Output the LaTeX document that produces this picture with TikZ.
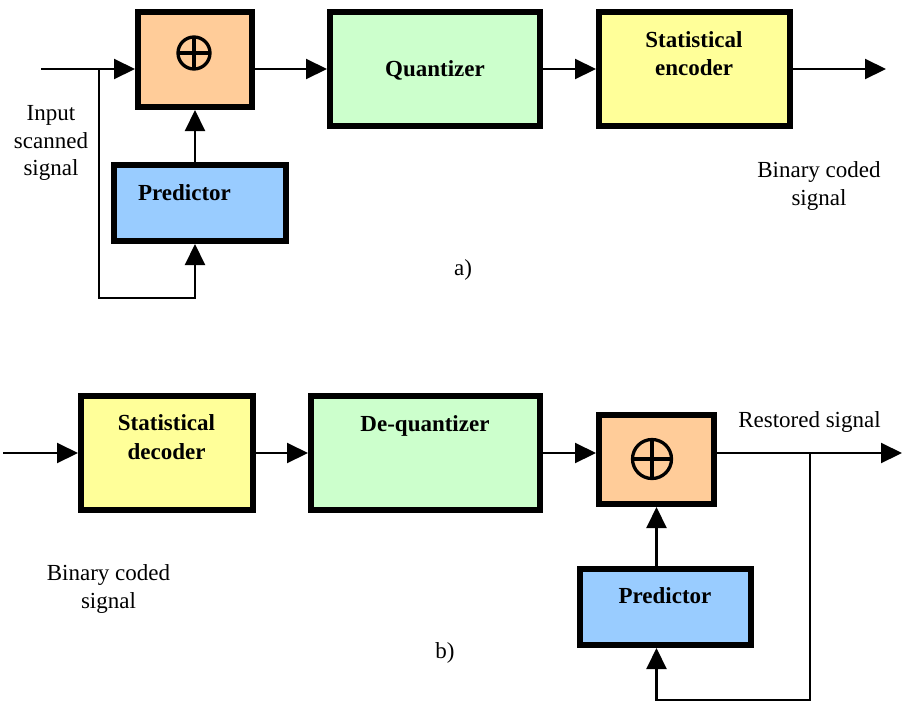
\documentclass[tikz,border=0pt]{standalone}
\usepackage{fontspec}
\setmainfont{Liberation Serif}
\usetikzlibrary{arrows.meta,calc}
\definecolor{sumfill}{HTML}{FFCC99}
\definecolor{qfill}{HTML}{CCFFCC}
\definecolor{sfill}{HTML}{FFFF99}
\definecolor{pfill}{HTML}{99CCFF}
\begin{document}
\begin{tikzpicture}[x=1pt,y=-1pt,
  blk/.style={draw=black, line width=6pt, rectangle, inner sep=0pt},
  wire/.style={line width=2.1pt, draw=black},
  conn/.style={wire, -{Triangle[length=21pt,width=20pt]}},
  btxt/.style={font=\fontsize{23}{28.5}\selectfont\bfseries, align=center, inner sep=0pt},
  ltxt/.style={font=\fontsize{23}{27.5}\selectfont, align=center, inner sep=0pt},
  oplus/.style={line width=3.3pt}
]
\useasboundingbox (0,0) rectangle (902,702);

% ---------- a) encoder ----------
\node[blk, fill=sumfill, minimum width=114pt, minimum height=95pt] (sumA) at (195,59.5) {};
\node[blk, fill=qfill, minimum width=210pt, minimum height=114pt] (quant) at (435,69) {};
\node[blk, fill=sfill, minimum width=191pt, minimum height=114pt] (enc) at (694.5,69) {};
\node[blk, fill=pfill, minimum width=172pt, minimum height=76pt] (predA) at (200,203) {};

\draw[oplus] ($(sumA.center)+(-1,-6.5)$) circle[radius=16];
\draw[oplus] ($(sumA.center)+(-17,-6.5)$) -- ($(sumA.center)+(15,-6.5)$);
\draw[oplus] ($(sumA.center)+(-1,-22.5)$) -- ($(sumA.center)+(-1,9.5)$);

\node[btxt] (quantT) at (435,70) {Quantizer};
\node[btxt] (encT) at (694,53.5) {Statistical\\encoder};
\node[btxt] (predAT) at (184.5,193) {Predictor};

\coordinate (inA) at (41,69);
\coordinate (brA) at (99,69);
\coordinate (loopA) at (99,298);
\coordinate (outA) at (886,69);

\draw[conn] (inA) -- (inA -| sumA.west);
\draw[conn] (brA) -- (loopA) -- (loopA -| sumA.south) -- (predA.south -| sumA.south);
\draw[conn] (predA.north -| sumA.south) -- (sumA.south);
\draw[conn] (sumA.east |- quant.west) -- (quant.west);
\draw[conn] (quant.east) -- (enc.west);
\draw[conn] (enc.east) -- (outA);

\node[ltxt] (inlabel) at (51,143) {Input\\scanned\\signal};
\node[ltxt] (outlabelA) at (819,186) {Binary coded\\signal};
\node[ltxt] (capA) at (463,270) {a)};

% ---------- b) decoder ----------
\node[blk, fill=sfill, minimum width=172pt, minimum height=114pt] (dec) at (167,453) {};
\node[blk, fill=qfill, minimum width=229pt, minimum height=114pt] (deq) at (425.5,453) {};
\node[blk, fill=sumfill, minimum width=115pt, minimum height=89pt] (sumB) at (656.5,459.5) {};
\node[blk, fill=pfill, minimum width=171pt, minimum height=76pt] (predB) at (665.5,607) {};

\draw[oplus] ($(sumB.center)+(-4.5,-0.5)$) circle[radius=19.5];
\draw[oplus] ($(sumB.center)+(-24,-0.5)$) -- ($(sumB.center)+(15,-0.5)$);
\draw[oplus] ($(sumB.center)+(-4.5,-20)$) -- ($(sumB.center)+(-4.5,19)$);

\node[btxt] (decT) at (166.5,437) {Statistical\\decoder};
\node[btxt] (deqT) at (425,425.5) {De-quantizer};
\node[btxt] (predBT) at (665,596) {Predictor};

\coordinate (inB) at (3,453);
\coordinate (brB) at (810,453);
\coordinate (loopB) at (810,700);
\coordinate (outB) at (902,453);

\draw[conn] (inB) -- (dec.west);
\draw[conn] (dec.east) -- (deq.west);
\draw[conn] (deq.east) -- (deq.east -| sumB.west);
\draw[conn] (sumB.east |- deq.east) -- (outB);
\draw[conn] (brB) -- (loopB) -- (loopB -| sumB.south) -- (predB.south -| sumB.south);
\draw[conn] (predB.north -| sumB.south) -- (sumB.south);

\node[ltxt] (restored) at (809.5,422) {Restored signal};
\node[ltxt] (inlabelB) at (108.5,589) {Binary coded\\signal};
\node[ltxt] (capB) at (445,653) {b)};
\end{tikzpicture}
\end{document}
